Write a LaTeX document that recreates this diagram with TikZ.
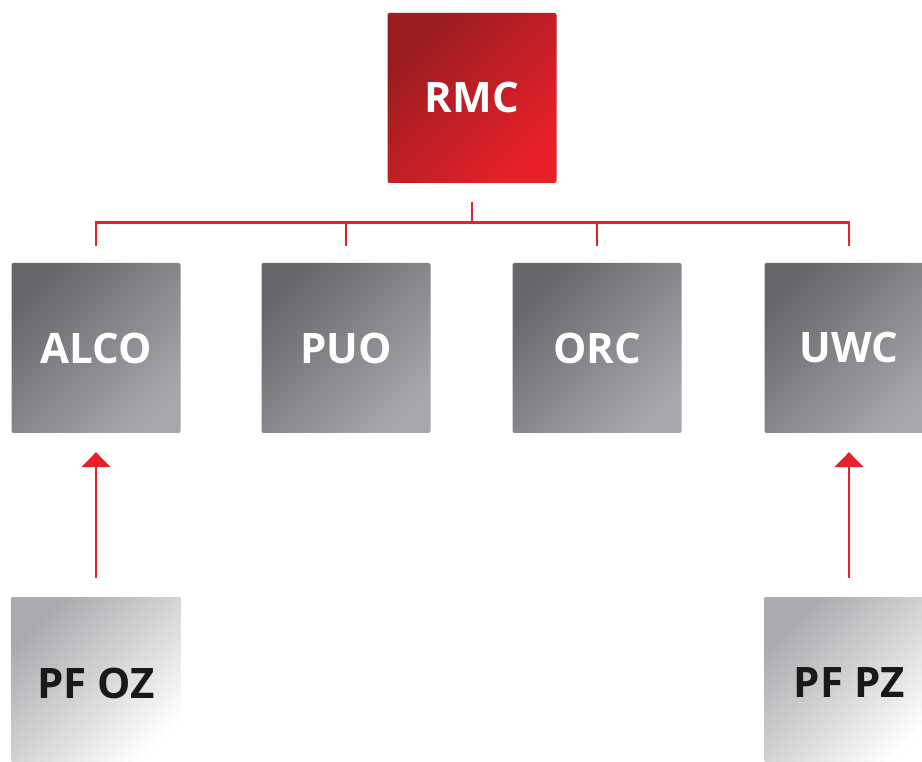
\documentclass[tikz,border=0pt]{standalone}
\usepackage{fontspec}
\setmainfont{Open Sans}
\usetikzlibrary{arrows.meta}
\definecolor{rojo}{HTML}{E8202A}
\definecolor{rojooscuro}{HTML}{981C20}
\definecolor{grisoscuro}{HTML}{66666B}
\definecolor{grisclaro}{HTML}{A6A6AB}
\definecolor{grispf}{HTML}{ABABAF}
\tikzset{
  caja/.style={minimum width=169pt, minimum height=170pt, inner sep=0pt,
    rounded corners=2pt,
    font=\fontsize{42}{48}\selectfont\bfseries},
  jefe/.style={caja, top color=rojooscuro, middle color=rojo!96!rojooscuro,
    bottom color=rojo, shading angle=45, text=white},
  comite/.style={caja, top color=grisoscuro, bottom color=grisclaro,
    shading angle=45, text=white},
  foro/.style={caja, rounded corners=0pt, top color=grispf, bottom color=white,
    shading angle=45, text=black!90},
  enlace/.style={rojo, line width=2.8pt},
  flecha/.style={enlace, -{Triangle[length=15pt,width=29pt]}}
}
\begin{document}
\begin{tikzpicture}[x=1pt,y=1pt]
        \useasboundingbox (0,0) rectangle (922,762);
        \clip (0,0) rectangle (922,762);

        % Consejo
        \node[jefe] (rmc) at (472,664) {RMC};

        % Comites
        \node[comite] (alco) at (96,414) {ALCO};
        \node[comite] (puo) at (346,414) {PUO};
        \node[comite] (orc) at (597,414) {ORC};
        \node[comite] (uwc) at (849,414) {UWC};

        % Foros
        \node[foro] (pfoz) at (96,79) {PF OZ};
        \node[foro] (pfpz) at (849,79) {PF PZ};

        % Lineas de mando
        \coordinate (bus) at ([yshift=-39pt]rmc.south);
        \draw[enlace] ([yshift=-19pt]rmc.south) -- (bus);
        \foreach \c in {alco,puo,orc,uwc}
            \draw[enlace] (bus) -| ([yshift=17pt]\c.north);

        % Informes
        \draw[flecha] ([yshift=20pt]pfoz.north) -- ([yshift=-19pt]alco.south);
        \draw[flecha] ([yshift=20pt]pfpz.north) -- ([yshift=-19pt]uwc.south);
    \end{tikzpicture}
\end{document}
